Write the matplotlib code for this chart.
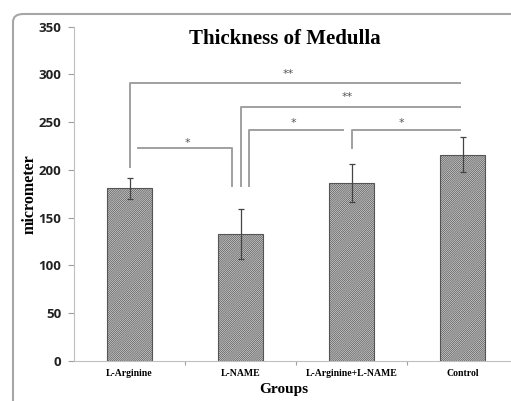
import matplotlib.pyplot as plt
import matplotlib.patches as mpatches
import numpy as np

groups = ["L-Arginine", "L-NAME", "L-Arginine+L-NAME", "Control"]
means = [181, 133, 186, 216]
errs = [11, 26, 20, 18]

# brackets: (x points, y points) in data units
brackets = [
    ([0.0, 0.0, 2.977], [203, 291, 291]),
    ([1.0, 1.0, 2.977], [183, 266, 266]),
    ([1.079, 1.079, 1.923], [183, 242, 242]),
    ([2.0, 2.0, 2.977], [223, 242, 242]),
    ([0.074, 0.926, 0.926], [223, 223, 183]),
]
stars = [("**", 1.43, 300), ("**", 1.96, 276), ("*", 1.48, 249), ("*", 2.45, 249), ("*", 0.52, 228)]

plt.rcParams['hatch.color'] = '#808080'
plt.rcParams['hatch.linewidth'] = 0.5

W, H = 511, 401
fig = plt.figure(figsize=(W / 100, H / 100), dpi=100)

# rounded frame around the chart
frame = mpatches.FancyBboxPatch((13 / W, -0.2), 1.2, (H - 14) / H + 0.2,
                                boxstyle="round,pad=0,rounding_size=0.02",
                                transform=fig.transFigure, fill=False,
                                ec='#a6a6a6', lw=1.5)
fig.patches.append(frame)

ax = fig.add_axes([74 / W, 40 / H, 444 / W, 334.5 / H])
x = np.arange(len(groups))
ax.bar(x, means, width=0.405, color='#d4d4d4', edgecolor='#555555', lw=0.8, hatch='/' * 16)
ax.errorbar(x, means, yerr=errs, fmt='none', ecolor='#444444', elinewidth=0.9, capsize=2, capthick=0.9)

for xs, ys in brackets:
    ax.plot(xs, ys, color='#a0a0a0', lw=1.4, clip_on=False)
for s, sx, sy in stars:
    ax.text(sx, sy, s, ha='center', va='center', fontsize=8, color='#555555', family='DejaVu Sans')

ax.set_xlim(-0.5, 3.5)
ax.set_ylim(0, 350)
ax.set_yticks(range(0, 351, 50))
ax.tick_params(axis='y', labelsize=9.5, length=4, color='#a0a0a0', pad=5)
for lab in ax.get_yticklabels():
    lab.set_fontweight('bold')
    lab.set_family('Open Sans')
    lab.set_color('#222222')

ax.set_xticks([0.5, 1.5, 2.5])
ax.set_xticklabels([])
ax.set_xticks(x, minor=True)
ax.set_xticklabels(groups, minor=True, fontsize=7, fontweight='bold', family='Liberation Serif')
ax.tick_params(axis='x', which='major', length=3, color='#a0a0a0')
ax.tick_params(axis='x', which='minor', length=0, pad=6)

for sp in ['top', 'right']:
    ax.spines[sp].set_visible(False)
ax.spines['left'].set_color('#bfbfbf')
ax.spines['bottom'].set_color('#bfbfbf')

ax.set_ylabel("micrometer", fontsize=11.5, fontweight='bold', family='Liberation Serif', labelpad=1)
fig.text(284 / W, 1 - 390 / H, "Groups", ha='center', va='center', fontsize=11, fontweight='bold', family='Liberation Serif')
fig.text(285 / W, 1 - 39 / H, "Thickness of Medulla", ha='center', va='center', fontsize=15, fontweight='bold', family='Liberation Serif')

fig.savefig("out.png", dpi=100)
